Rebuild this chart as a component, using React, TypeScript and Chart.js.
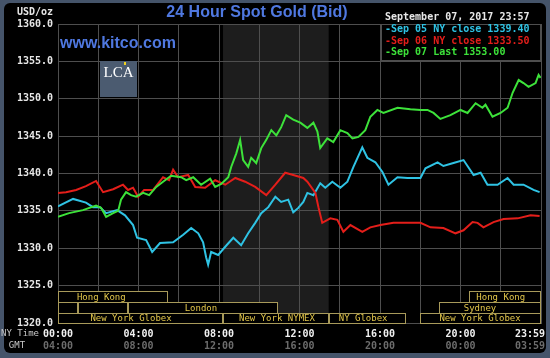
import React, { useEffect, useRef } from "react";
import { Chart, registerables } from "chart.js";

Chart.register(...registerables);

// ---- Data (hours since 00:00 NY time, price USD/oz) ----
const sep05Hours = [0, 0.75, 1.39, 1.74, 2.09, 2.39, 2.94, 3.33, 3.73, 3.93, 4.38, 4.68, 5.07, 5.72, 6.22, 6.62, 6.97, 7.21, 7.36, 7.46, 7.61, 7.96, 8.31, 8.71, 9.1, 9.45, 9.8, 10.1, 10.45, 10.8, 11.09, 11.44, 11.69, 11.94, 12.19, 12.39, 12.69, 13.03, 13.28, 13.63, 14.03, 14.38, 14.68, 15.12, 15.37, 15.77, 16.12, 16.42, 16.87, 17.36, 18.01, 18.26, 18.86, 19.15, 19.65, 20.15, 20.65, 21.0, 21.34, 21.84, 22.34, 22.64, 23.13, 23.63, 23.93];
const sep05Prices = [1335.6, 1336.6, 1336.1, 1335.5, 1335.5, 1334.7, 1335.1, 1334.4, 1333.1, 1331.4, 1331.1, 1329.5, 1330.7, 1330.8, 1331.8, 1332.7, 1332.0, 1330.8, 1328.8, 1327.8, 1329.5, 1329.1, 1330.2, 1331.4, 1330.4, 1332.0, 1333.4, 1334.7, 1335.5, 1336.9, 1336.2, 1336.5, 1334.8, 1335.4, 1336.2, 1337.4, 1337.1, 1338.7, 1338.1, 1338.9, 1338.1, 1338.9, 1340.9, 1343.5, 1342.1, 1341.5, 1340.2, 1338.5, 1339.5, 1339.4, 1339.4, 1340.7, 1341.5, 1341.0, 1341.4, 1341.8, 1339.8, 1340.1, 1338.5, 1338.5, 1339.4, 1338.5, 1338.5, 1337.8, 1337.5];

const sep06Hours = [0, 0.4, 0.9, 1.39, 1.89, 2.24, 2.74, 3.23, 3.48, 3.73, 3.98, 4.28, 4.73, 5.22, 5.52, 5.72, 5.97, 6.47, 6.82, 7.31, 7.81, 8.31, 8.81, 9.3, 9.8, 10.35, 10.8, 11.29, 11.69, 12.19, 12.39, 12.79, 12.94, 13.13, 13.53, 13.88, 14.18, 14.53, 15.12, 15.52, 16.02, 16.67, 17.36, 18.01, 18.51, 19.15, 19.75, 20.15, 20.6, 20.85, 21.14, 21.64, 22.14, 22.84, 23.48, 23.93];
const sep06Prices = [1337.4, 1337.5, 1337.8, 1338.3, 1339.0, 1337.5, 1337.9, 1338.5, 1337.8, 1338.1, 1336.9, 1337.8, 1337.8, 1339.5, 1339.1, 1340.5, 1339.5, 1339.8, 1338.2, 1338.1, 1339.1, 1338.5, 1339.4, 1338.9, 1338.2, 1337.1, 1338.5, 1340.1, 1339.8, 1339.4, 1338.9, 1337.4, 1335.5, 1333.4, 1334.0, 1333.8, 1332.2, 1333.1, 1332.2, 1332.8, 1333.1, 1333.4, 1333.4, 1333.4, 1332.8, 1332.7, 1332.0, 1332.4, 1333.5, 1333.4, 1332.8, 1333.5, 1333.9, 1334.0, 1334.4, 1334.3];

const sep07Hours = [0, 0.55, 1.24, 1.89, 2.14, 2.39, 2.74, 2.99, 3.13, 3.38, 3.63, 3.88, 4.23, 4.53, 4.88, 5.22, 5.62, 6.12, 6.37, 6.72, 7.11, 7.56, 7.81, 8.11, 8.46, 8.61, 8.86, 9.05, 9.2, 9.45, 9.6, 9.85, 10.1, 10.35, 10.6, 10.85, 11.09, 11.34, 11.69, 12.04, 12.39, 12.69, 12.89, 13.03, 13.38, 13.68, 14.03, 14.38, 14.63, 14.93, 15.27, 15.52, 15.87, 16.17, 16.87, 17.51, 18.01, 18.36, 18.66, 19.0, 19.5, 20.0, 20.35, 20.75, 21.09, 21.24, 21.59, 21.99, 22.34, 22.59, 22.89, 23.13, 23.38, 23.73, 23.88, 23.98];
const sep07Prices = [1334.2, 1334.7, 1335.1, 1335.7, 1335.4, 1334.2, 1334.7, 1335.0, 1336.5, 1337.5, 1337.1, 1336.9, 1337.4, 1337.1, 1338.2, 1338.9, 1339.7, 1339.5, 1339.1, 1339.5, 1338.5, 1339.3, 1338.2, 1338.6, 1339.5, 1340.9, 1342.7, 1344.5, 1341.8, 1340.9, 1342.1, 1341.4, 1343.4, 1344.5, 1345.8, 1345.1, 1346.2, 1347.8, 1347.2, 1346.8, 1346.1, 1346.8, 1345.6, 1343.4, 1344.7, 1344.2, 1345.8, 1345.4, 1344.7, 1344.9, 1345.8, 1347.6, 1348.5, 1348.1, 1348.8, 1348.6, 1348.5, 1348.5, 1348.1, 1347.3, 1347.8, 1348.5, 1348.1, 1349.4, 1348.8, 1349.2, 1347.6, 1348.1, 1348.8, 1350.8, 1352.5, 1352.1, 1351.6, 1352.1, 1353.2, 1352.8];

const legendLabels = ["Sep 05 NY close 1339.40", "Sep 06 NY close 1333.50", "Sep 07 Last 1353.00"];
const headerText = "September 07, 2017 23:57";
const titleText = "24 Hour Spot Gold (Bid)";
const siteText = "www.kitco.com";
const unitText = "USD/oz";

const tickHours = [0, 4, 8, 12, 16, 20, 24];
const nyTimeLabels = ["00:00", "04:00", "08:00", "12:00", "16:00", "20:00", "23:59"];
const gmtLabels = ["04:00", "08:00", "12:00", "16:00", "20:00", "00:00", "03:59"];

// NYMEX pit session shading (hours)
const shadeStart = 8.2;
const shadeEnd = 13.45;

// Market session bars
const sessionRow = [0, 0, 1, 1, 1, 1, 2, 2, 2, 2];
const sessionStart = [0, 20.4, 0, 1.0, 3.48, 18.93, 0, 8.2, 13.45, 17.98];
const sessionEnd = [5.47, 24, 1.0, 3.48, 10.93, 24, 8.2, 13.45, 17.27, 24];
const sessionLabelAt = [2.15, 22.0, 0, 0, 7.1, 20.97, 3.63, 10.88, 15.16, 20.97];
const sessionName = ["Hong Kong", "Hong Kong", "", "", "London", "Sydney", "New York Globex", "New York NYMEX", "NY Globex", "New York Globex"];

const CYAN = "#2fc3e4";
const RED = "#e41e1a";
const GREEN = "#3de23a";
const GRID = "#4e4e4e";
const MONO = "'DejaVu Sans Mono', monospace";

function toPoints(hours: number[], prices: number[]) {
  return hours.map((h, i) => ({ x: h, y: prices[i] }));
}

const decorPlugin = {
  id: "decor",
  beforeDraw(chart: any) {
    const { ctx, chartArea: a, scales } = chart;
    const x = scales.x;
    ctx.save();
    ctx.fillStyle = "#45546a";
    ctx.fillRect(0, 0, chart.width, chart.height);
    ctx.fillStyle = "#000";
    ctx.beginPath();
    (ctx as any).roundRect(4, 3, 542, 350, 6);
    ctx.fill();
    const x0 = x.getPixelForValue(shadeStart);
    const x1 = x.getPixelForValue(shadeEnd);
    ctx.fillStyle = "#1d1d1d";
    ctx.fillRect(x0, a.top, x1 - x0, a.bottom - a.top);
    ctx.restore();
  },
  afterDatasetsDraw(chart: any) {
    const { ctx, chartArea: a, scales } = chart;
    const x = scales.x;
    ctx.save();
    ctx.font = `9px ${MONO}`;
    ctx.textAlign = "center";
    ctx.textBaseline = "middle";
    for (let i = 0; i < sessionName.length; i++) {
      const r = sessionRow[i];
      const top = a.bottom - 32 + r * 11;
      const h = r < 2 ? 11 : 10;
      const x0 = Math.round(x.getPixelForValue(sessionStart[i]));
      const x1 = Math.round(x.getPixelForValue(sessionEnd[i]));
      ctx.fillStyle = "#000";
      ctx.fillRect(x0, top, x1 - x0, h);
      ctx.strokeStyle = "#a89a5a";
      ctx.lineWidth = 1;
      ctx.strokeRect(x0 + 0.5, top + 0.5, x1 - x0 - 1, h);
      if (sessionName[i]) {
        ctx.fillStyle = "#e2c64a";
        ctx.fillText(sessionName[i], x.getPixelForValue(sessionLabelAt[i]), top + h / 2 + 1);
      }
    }
    ctx.restore();
  },
  afterDraw(chart: any) {
    const { ctx, chartArea: a, scales } = chart;
    const x = scales.x;
    ctx.save();
    ctx.font = "bold 16px 'Liberation Sans', Arial, sans-serif";
    ctx.fillStyle = "#4f78e0";
    ctx.textAlign = "center";
    ctx.textBaseline = "middle";
    ctx.fillText(titleText, 257, 13);
    ctx.textAlign = "left";
    ctx.fillText(siteText, a.left + 2, 44);

    // LCA logo
    ctx.fillStyle = "#4b5b70";
    ctx.fillRect(100, 61, 37, 36);
    ctx.fillStyle = "#ffffff";
    ctx.font = "15px 'Liberation Serif', serif";
    ctx.textAlign = "center";
    ctx.fillText("LCA", 118.5, 73);
    ctx.fillStyle = "#f0d020";
    ctx.fillRect(124, 62, 2, 3);

    ctx.font = `bold 10px ${MONO}`;
    ctx.fillStyle = "#e6e6e6";
    ctx.textAlign = "right";
    ctx.fillText(unitText, 53, 12);

    // legend box
    const lx = a.right - 160;
    ctx.fillStyle = "#000";
    ctx.fillRect(lx, a.top, 160, 36);
    ctx.strokeStyle = GRID;
    ctx.lineWidth = 1;
    ctx.strokeRect(lx + 0.5, a.top + 0.5, 159, 36);
    ctx.textAlign = "left";
    ctx.fillStyle = "#e8e8e8";
    ctx.fillText(headerText, lx + 4, 17);
    const colors = [CYAN, RED, GREEN];
    legendLabels.forEach((t, i) => {
      ctx.fillStyle = colors[i];
      ctx.fillText("-" + t, lx + 4, a.top + 5.5 + i * 11.5);
    });

    // x axis labels
    ctx.font = `9px ${MONO}`;
    ctx.fillStyle = "#c8c8c8";
    ctx.textAlign = "center";
    ctx.fillText("NY Time", 20, 334);
    ctx.fillText("GMT", 17, 346);
    ctx.font = `bold 10px ${MONO}`;
    tickHours.forEach((h, i) => {
      let px = x.getPixelForValue(h);
      if (i === tickHours.length - 1) px -= 11;
      ctx.fillStyle = "#f0f0f0";
      ctx.fillText(nyTimeLabels[i], px, 334);
      ctx.fillStyle = "#6c6c6c";
      ctx.fillText(gmtLabels[i], px, 346);
    });
    ctx.restore();
  },
};

export default function App() {
  const ref = useRef<HTMLCanvasElement | null>(null);
  useEffect(() => {
    if (!ref.current) return;
    const chart = new Chart(ref.current, {
      type: "line",
      data: {
        datasets: [
          { label: legendLabels[2], data: toPoints(sep07Hours, sep07Prices), borderColor: GREEN, borderWidth: 2, pointRadius: 0, order: 0 },
          { label: legendLabels[1], data: toPoints(sep06Hours, sep06Prices), borderColor: RED, borderWidth: 2, pointRadius: 0, order: 1 },
          { label: legendLabels[0], data: toPoints(sep05Hours, sep05Prices), borderColor: CYAN, borderWidth: 2, pointRadius: 0, order: 2 },
        ],
      },
      options: {
        animation: false,
        responsive: false,
        devicePixelRatio: 1,
        layout: { padding: { top: 24, right: 9, left: 0, bottom: 0 } },
        plugins: { legend: { display: false }, tooltip: { enabled: false }, title: { display: false } },
        scales: {
          x: {
            type: "linear",
            min: 0,
            max: 24,
            ticks: { display: false, stepSize: 2 },
            grid: { color: GRID, drawTicks: false },
            border: { color: GRID },
            afterFit(s: any) { s.height = 35; },
          },
          y: {
            type: "linear",
            min: 1320,
            max: 1360,
            ticks: {
              stepSize: 5,
              padding: 5,
              color: "#e6e6e6",
              font: { family: "'DejaVu Sans Mono'", size: 10, weight: "bold" },
              callback: (v: any) => Number(v).toFixed(1),
            },
            grid: { color: GRID, drawTicks: false },
            border: { color: GRID },
            afterFit(s: any) { s.width = 58; },
          },
        },
      } as any,
      plugins: [decorPlugin],
    });
    return () => chart.destroy();
  }, []);
  return (
    <div style={{ position: "fixed", left: 0, top: 0, width: 550, height: 358 }}>
      <canvas ref={ref} width={550} height={358} style={{ display: "block", width: 550, height: 358 }} />
    </div>
  );
}
